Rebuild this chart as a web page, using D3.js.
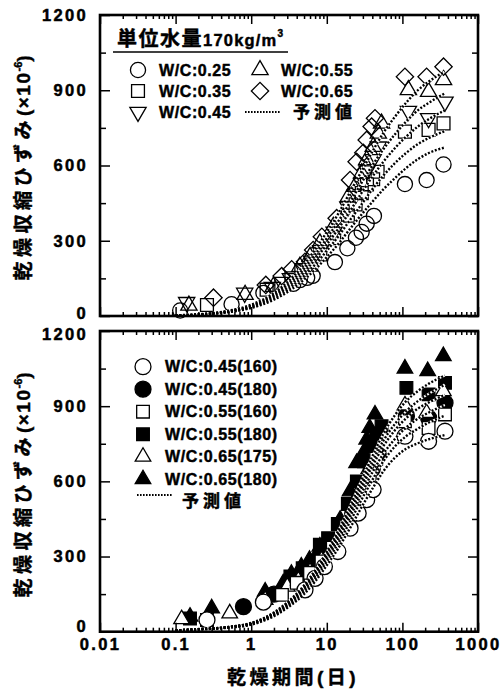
<!DOCTYPE html>
<html>
<head>
<meta charset="utf-8">
<script src="https://cdn.jsdelivr.net/npm/d3@7"></script>
<style>
  body { margin: 0; background: #fff; }
  svg { display: block; }
  text { font-family: "Liberation Sans", Arial, "Noto Sans CJK JP", sans-serif; font-weight: bold; fill: #000; stroke: #000; stroke-width: 0.45px; }
</style>
</head>
<body>
<svg id="chart" width="502" height="689"></svg>
<script>
// ---- data ----
// upper panel: unit water 170kg/m3
const topNames = ["W/C:0.25", "W/C:0.35", "W/C:0.45", "W/C:0.55", "W/C:0.65"];
const topDays = [
  [0.115, 0.55, 1.45, 3.6, 4.4, 5.5, 6.5, 12.8, 18.7, 24.3, 28.9, 33.7, 42, 108, 209, 350],
  [0.26, 1.6, 2.5, 3.4, 4.6, 6.2, 8.2, 12.5, 19, 24, 29, 34, 41, 47, 108, 222, 350],
  [0.14, 0.82, 1.9, 3.3, 4.8, 6.3, 8.3, 12.5, 19, 24, 29, 34, 41, 48, 120, 222, 366],
  [0.15, 0.83, 1.96, 4.4, 6, 8.1, 12.2, 19.3, 23.6, 28.9, 33.7, 41.2, 48, 53, 120, 222, 350],
  [0.317, 1.56, 2.53, 3.43, 5.15, 6.6, 8.6, 13.5, 20.3, 24.8, 30.4, 33.7, 39.2, 43.4, 108, 209, 350]
];
const topValues = [
  [22, 47, 92, 128, 143, 152, 160, 215, 270, 312, 335, 368, 399, 526, 542, 604],
  [44, 105, 128, 150, 178, 205, 245, 310, 400, 445, 490, 525, 545, 575, 735, 742, 768],
  [55, 92, 115, 150, 190, 220, 262, 335, 435, 485, 530, 580, 625, 675, 817, 788, 854],
  [42, 85, 117, 197, 236, 290, 356, 476, 516, 569, 622, 675, 728, 768, 901, 894, 941],
  [73, 124, 159, 186, 216, 263, 316, 390, 542, 615, 651, 702, 755, 788, 954, 954, 994]
];
const predDays = [0.1, 0.2, 0.5, 1, 2, 3, 5, 7, 10, 14, 20, 28, 40, 56, 80, 112, 160, 224, 365];
const topPred = [
  [2, 5, 15, 32, 65, 95, 145, 185, 235, 285, 345, 400, 455, 505, 550, 590, 625, 650, 672],
  [2, 5, 16, 35, 72, 105, 160, 205, 260, 315, 380, 440, 505, 560, 610, 650, 685, 710, 737],
  [2, 6, 18, 38, 80, 115, 175, 225, 285, 345, 415, 485, 555, 615, 670, 715, 755, 785, 820],
  [2, 6, 19, 41, 85, 125, 190, 245, 310, 375, 450, 525, 600, 665, 725, 775, 820, 850, 888],
  [3, 7, 21, 45, 92, 135, 205, 265, 335, 405, 490, 570, 655, 730, 795, 850, 900, 935, 975]
];

// lower panel
const botNames = ["W/C:0.45(160)", "W/C:0.45(180)", "W/C:0.55(160)", "W/C:0.55(180)", "W/C:0.65(175)", "W/C:0.65(180)"];
const botDays = [
  [0.26, 1.45, 5.15, 7, 9.3, 14, 20.3, 26, 33.7, 41, 108, 222, 366],
  [0.79, 2, 4, 6, 8, 12, 17, 22, 27, 33, 40, 48, 113, 222, 366],
  [0.26, 2.55, 4, 6, 8.5, 12, 18, 24, 30, 37, 45, 108, 222, 366],
  [0.155, 1.8, 3.3, 4.8, 8.1, 10.4, 14, 19, 25, 31, 38, 45, 53, 113, 222, 366],
  [0.12, 0.52, 1.53, 3, 4.2, 6, 8.5, 12, 17, 23, 29, 36, 44, 108, 209, 348],
  [0.155, 0.3, 1.53, 2.65, 3.4, 4.6, 5.9, 8.1, 15, 20.3, 24.8, 30.4, 33.7, 37, 43.4, 108, 216, 348]
];
const botValues = [
  [47, 118, 167, 213, 260, 320, 413, 473, 527, 567, 780, 760, 800],
  [100, 150, 215, 260, 300, 355, 420, 470, 530, 590, 650, 705, 860, 853, 913],
  [47, 147, 195, 235, 280, 335, 420, 480, 560, 625, 690, 840, 813, 867],
  [53, 147, 220, 253, 347, 373, 430, 510, 600, 680, 740, 790, 820, 973, 947, 993],
  [50, 73, 127, 180, 205, 240, 285, 340, 420, 500, 580, 650, 700, 903, 873, 960],
  [60, 93, 160, 193, 231, 260, 287, 340, 447, 560, 673, 713, 767, 813, 867, 1050, 1040, 1100]
];
const botPred = [
  [5, 9, 16, 28, 62, 95, 150, 200, 265, 330, 410, 490, 570, 640, 695, 730, 752, 768, 785],
  [5, 9, 17, 30, 66, 100, 160, 212, 280, 350, 435, 520, 605, 680, 740, 780, 810, 835, 862],
  [5, 10, 18, 32, 70, 106, 168, 222, 292, 365, 455, 545, 635, 710, 770, 815, 850, 875, 905],
  [5, 10, 18, 33, 72, 110, 174, 230, 302, 378, 470, 565, 660, 740, 805, 852, 890, 915, 945],
  [5, 10, 19, 34, 74, 113, 178, 236, 310, 388, 483, 580, 678, 762, 830, 880, 920, 950, 985],
  [5, 10, 19, 35, 77, 117, 185, 245, 320, 400, 498, 598, 700, 790, 865, 920, 960, 990, 1022]
];

const xTicks = [0.01, 0.1, 1, 10, 100, 1000];
const yTicks = [0, 300, 600, 900, 1200];
const yMinor = [150, 450, 750, 1050];

// ---- drawing ----
const svg = d3.select("#chart");
const x = d3.scaleLog().domain([0.01, 1000]).range([100, 478]);
const yTop = d3.scaleLinear().domain([0, 1200]).range([316, 15]);
const yBot = d3.scaleLinear().domain([0, 1200]).range([631.7, 331]);
const xMinor = x.ticks().filter(v => !xTicks.some(m => Math.abs(v - m) / m < 1e-6));

function sym(type, size, rot) {
  const p = d3.symbol().type(type).size(size)();
  return { path: p, rot: rot || 0 };
}
const topSym = [
  sym(d3.symbolCircle, 180), sym(d3.symbolSquare, 165), sym(d3.symbolTriangle, 115, 180),
  sym(d3.symbolTriangle, 115), sym(d3.symbolSquare, 150, 45)
];
const botSym = [
  sym(d3.symbolCircle, 200), sym(d3.symbolCircle, 200), sym(d3.symbolSquare, 160),
  sym(d3.symbolSquare, 160), sym(d3.symbolTriangle, 105), sym(d3.symbolTriangle, 105)
];
const botFill = ["#fff", "#000", "#fff", "#000", "#fff", "#000"];

// nudge labels at the panel joins so they do not collide
function axes(g, y, labels, nudge) {
  const gx = g.append("g").attr("transform", `translate(0,${y(0)})`);
  gx.call(d3.axisBottom(x).tickValues(xTicks).tickSize(-9).tickPadding(7)
    .tickFormat(labels ? d => String(d) : ""));
  gx.append("g").call(d3.axisBottom(x).tickValues(xMinor).tickSize(-4).tickFormat(""));
  const gt = g.append("g").attr("transform", `translate(0,${y(1200)})`);
  gt.call(d3.axisTop(x).tickValues(xTicks).tickSize(-9).tickFormat(""));
  gt.append("g").call(d3.axisTop(x).tickValues(xMinor).tickSize(-4).tickFormat(""));
  const gl = g.append("g").attr("transform", "translate(100,0)");
  gl.call(d3.axisLeft(y).tickValues(yTicks).tickSize(-10).tickPadding(12).tickFormat(d3.format("d")));
  gl.selectAll(".tick text").attr("y", d => nudge[d] || 0);
  gl.append("g").call(d3.axisLeft(y).tickValues(yMinor).tickSize(-6).tickFormat(""));
  const gr = g.append("g").attr("transform", "translate(478,0)");
  gr.call(d3.axisRight(y).tickValues(yTicks).tickSize(-10).tickFormat(""));
  gr.append("g").call(d3.axisRight(y).tickValues(yMinor).tickSize(-6).tickFormat(""));
  g.selectAll(".domain").remove();
  g.selectAll(".tick line").attr("stroke", "#000").attr("stroke-width", 1.5);
  g.selectAll(".tick text").attr("font-size", 16.5).attr("letter-spacing", 2.3)
    .style("font-family", "'Liberation Sans', Arial, sans-serif").style("font-weight", "bold")
    .style("stroke", "#000").style("stroke-width", "0.5px");
  g.append("rect").attr("x", 100).attr("y", y(1200)).attr("width", 378).attr("height", y(0) - y(1200))
    .attr("fill", "none").attr("stroke", "#000").attr("stroke-width", 2.6);
}

function predLines(g, y, preds) {
  const line = d3.line().x((d, i) => x(predDays[i])).y(d => y(d)).curve(d3.curveMonotoneX);
  g.selectAll(null).data(preds).join("path").attr("d", line)
    .attr("fill", "none").attr("stroke", "#fff").attr("stroke-width", 2.2);
  g.selectAll(null).data(preds).join("path").attr("d", line)
    .attr("fill", "none").attr("stroke", "#000").attr("stroke-width", 2.4)
    .attr("stroke-dasharray", "2,1.7");
}

function yTitle(cx, cy) {
  const t = svg.append("text")
    .attr("transform", `translate(${cx},${cy}) rotate(-90)`)
    .attr("text-anchor", "middle").attr("dy", "0.35em").attr("font-size", 19);
  t.append("tspan").attr("letter-spacing", 4.5).text("乾燥収縮ひずみ");
  t.append("tspan").attr("letter-spacing", 1.5).text("(×10");
  t.append("tspan").attr("font-size", 11).attr("dy", -8).text("-6");
  t.append("tspan").attr("dy", 8).text(")");
}

// upper panel
const gTop = svg.append("g");
topNames.forEach((n, i) => {
  gTop.append("g").selectAll("path").data(topDays[i].map((d, j) => [d, topValues[i][j]])).join("path")
    .attr("d", topSym[i].path)
    .attr("transform", d => `translate(${x(d[0])},${yTop(d[1])}) rotate(${topSym[i].rot})`)
    .attr("fill", "none").attr("stroke", "#000").attr("stroke-width", 1.3);
});
predLines(gTop, yTop, topPred);
axes(gTop, yTop, false, { 0: -3 });

// lower panel
const gBot = svg.append("g");
[5, 3, 1, 4, 2, 0].forEach(i => {
  gBot.append("g").selectAll("path").data(botDays[i].map((d, j) => [d, botValues[i][j]])).join("path")
    .attr("d", botSym[i].path)
    .attr("transform", d => `translate(${x(d[0])},${yBot(d[1])})`)
    .attr("fill", botFill[i]).attr("stroke", "#000").attr("stroke-width", 1.3);
});
predLines(gBot, yBot, botPred);
axes(gBot, yBot, true, { 0: -5, 1200: 3 });

yTitle(23, 168);
yTitle(23, 485);

svg.append("text").attr("x", 293).attr("y", 684)
  .attr("text-anchor", "middle").attr("font-size", 19).attr("letter-spacing", 3.5)
  .text("乾燥期間(日)");

// upper legend
const lt = svg.append("text").attr("x", 117).attr("y", 46);
lt.append("tspan").attr("font-size", 20).attr("letter-spacing", 1.5).text("単位水量");
lt.append("tspan").attr("font-size", 16.5).attr("letter-spacing", 1.2).text("170kg/m");
lt.append("tspan").attr("font-size", 10).attr("dy", -9).text("3");
svg.append("line").attr("x1", 113).attr("x2", 288).attr("y1", 52).attr("y2", 52)
  .attr("stroke", "#000").attr("stroke-width", 1.6);

const topLegPos = [[138, 70], [138, 91], [138, 112], [260, 70], [260, 91]];
topNames.forEach((n, i) => {
  const [lx, ly] = topLegPos[i];
  svg.append("path").attr("d", topSym[i].path)
    .attr("transform", `translate(${lx},${ly}) rotate(${topSym[i].rot})`)
    .attr("fill", "none").attr("stroke", "#000").attr("stroke-width", 1.3);
  svg.append("text").attr("x", lx + 21).attr("y", ly).attr("dy", "0.36em")
    .attr("font-size", 16).attr("letter-spacing", 0.6).text(n);
});
svg.append("line").attr("x1", 245).attr("x2", 280).attr("y1", 112).attr("y2", 112)
  .attr("stroke", "#000").attr("stroke-width", 2).attr("stroke-dasharray", "1.6,1.4");
svg.append("text").attr("x", 293).attr("y", 112).attr("dy", "0.36em")
  .attr("font-size", 17).attr("letter-spacing", 4).text("予測値");

// lower legend
botNames.forEach((n, i) => {
  const ly = 366.7 + i * 22.5;
  svg.append("path").attr("d", botSym[i].path)
    .attr("transform", `translate(143,${ly})`)
    .attr("fill", botFill[i]).attr("stroke", "#000").attr("stroke-width", 1.3);
  svg.append("text").attr("x", 165).attr("y", ly).attr("dy", "0.36em")
    .attr("font-size", 16).attr("letter-spacing", 0.6).text(n);
});
svg.append("line").attr("x1", 137).attr("x2", 172).attr("y1", 495).attr("y2", 495)
  .attr("stroke", "#000").attr("stroke-width", 2).attr("stroke-dasharray", "1.6,1.4");
svg.append("text").attr("x", 182).attr("y", 501).attr("dy", "0.36em")
  .attr("font-size", 17).attr("letter-spacing", 4).text("予測値");
</script>
</body>
</html>
